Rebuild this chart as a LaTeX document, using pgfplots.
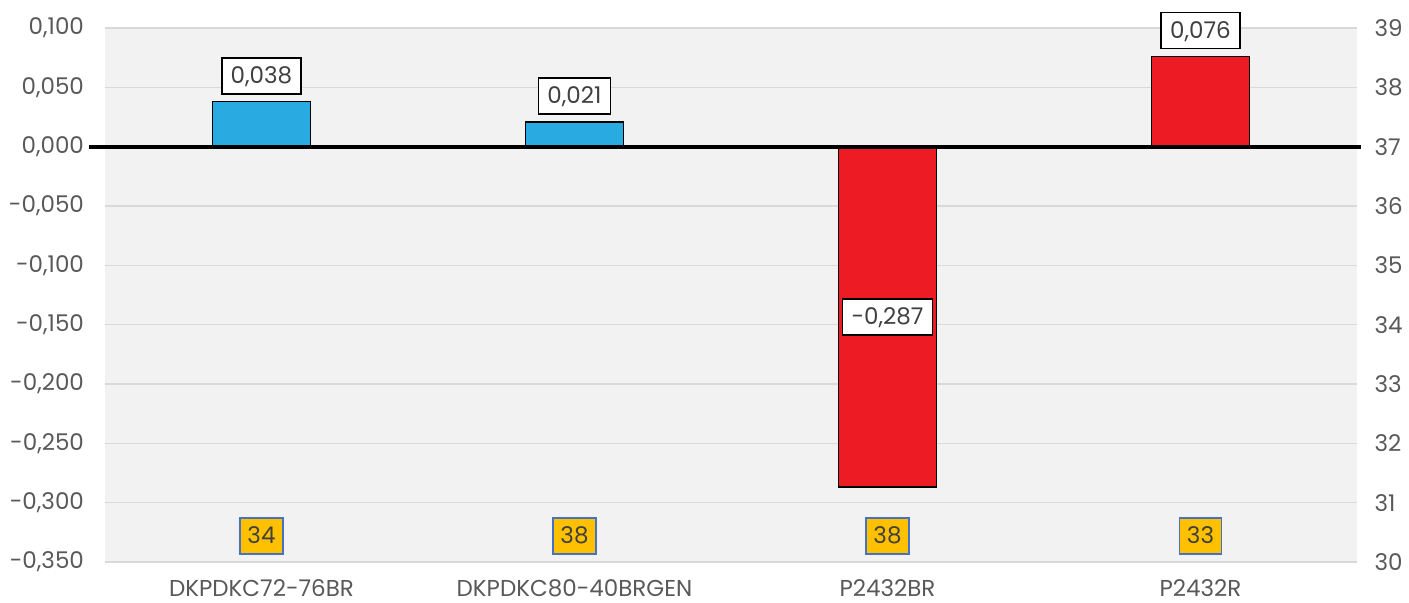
\documentclass[border=0pt]{standalone}
\usepackage{pgfplots}
\pgfplotsset{compat=1.18}
\usepackage{fontspec}
\setmainfont{Poppins}
\definecolor{txt}{HTML}{595959}
\definecolor{lbl}{HTML}{404040}
\definecolor{bg}{HTML}{F2F2F2}
\definecolor{gridc}{HTML}{D9D9D9}
\definecolor{barblue}{HTML}{29ABE2}
\definecolor{barred}{HTML}{ED1C24}
\definecolor{yel}{HTML}{FFC000}
\definecolor{yelb}{HTML}{4472C4}
\begin{document}
\begin{tikzpicture}[x=1pt,y=1pt]
\useasboundingbox (-52.5,-20.5) rectangle (652,281);
\begin{axis}[
  at={(0,0)}, anchor=south west,
  width=626pt, height=267pt, scale only axis,
  xmin=-0.5, xmax=3.5, ymin=-0.35, ymax=0.1,
  xtick={0,1,2,3},
  xticklabels={DKPDKC72-76BR,DKPDKC80-40BRGEN,P2432BR,P2432R},
  ytick={-0.35,-0.3,-0.25,-0.2,-0.15,-0.1,-0.05,0,0.05,0.1},
  yticklabel={\pgfmathprintnumber[fixed,fixed zerofill,precision=3,use comma,assume math mode=true]{\tick}},
  axis background/.style={fill=bg},
  ymajorgrids, grid style={draw=gridc, line width=0.8pt},
  axis line style={draw=none}, major tick style={draw=none},
  axis y line*=left, axis x line*=bottom,
  every tick label/.append style={font=\fontsize{11.5}{13}\selectfont, text=txt},
  yticklabel style={xshift=-7pt},
  xticklabel style={inner sep=0.5pt, yshift=-8pt},
  clip=false,
]
\addplot[ybar, bar width=49pt, bar shift=0pt, fill=barblue, draw=black, line width=0.9pt]
  coordinates {(0,0.038) (1,0.021)};
\addplot[ybar, bar width=49pt, bar shift=0pt, fill=barred, draw=black, line width=0.9pt]
  coordinates {(2,-0.287) (3,0.076)};
\addplot[black, line width=2pt] coordinates {(-0.551,0) (3.513,0)};
\addplot[draw=none, mark=none, nodes near coords, point meta=explicit symbolic,
  nodes near coords style={anchor=south, yshift=3.5pt, fill=white, draw=black, line width=0.8pt,
    font=\fontsize{11.5}{13}\selectfont, text=lbl, inner xsep=4.5pt, inner ysep=5pt,
    text height=8pt, text depth=0pt}]
  coordinates {(0,0.038)[0,038] (1,0.021)[0,021] (3,0.076)[0,076]};
\addplot[draw=none, mark=none, nodes near coords, point meta=explicit symbolic,
  nodes near coords style={anchor=center, fill=white, draw=black, line width=0.8pt,
    font=\fontsize{11.5}{13}\selectfont, text=lbl, inner xsep=4.5pt, inner ysep=5pt,
    text height=8pt, text depth=0pt}]
  coordinates {(2,-0.1435)[-0,287]};
\addplot[draw=none, mark=none, nodes near coords, point meta=explicit symbolic,
  nodes near coords style={anchor=center, fill=yel, draw=yelb, line width=0.8pt,
    font=\fontsize{11.5}{13}\selectfont, text=lbl, inner xsep=3.7pt, inner ysep=5pt,
    text height=8pt, text depth=0pt}]
  coordinates {(0,-0.328)[34] (1,-0.328)[38] (2,-0.328)[38] (3,-0.328)[33]};
\end{axis}
\begin{axis}[
  at={(0,0)}, anchor=south west,
  width=626pt, height=267pt, scale only axis,
  xmin=-0.5, xmax=3.5, ymin=30, ymax=39,
  ytick={30,31,32,33,34,35,36,37,38,39},
  yticklabel={\pgfmathprintnumber[assume math mode=true]{\tick}},
  axis y line*=right, hide x axis,
  axis line style={draw=none}, major tick style={draw=none},
  every tick label/.append style={font=\fontsize{11.5}{13}\selectfont, text=txt},
  yticklabel style={xshift=5.3pt},
]
\addplot[draw=none] coordinates {(0,30)};
\end{axis}
\end{tikzpicture}
\end{document}
